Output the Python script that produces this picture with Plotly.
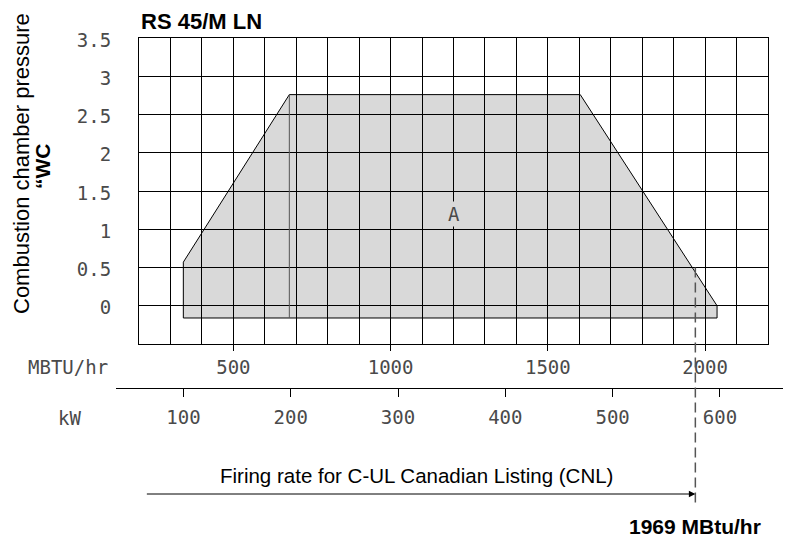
import plotly.graph_objects as go

# ---------------- data ----------------
title_text = "RS 45/M LN"
y_title = "Combustion chamber pressure"
y_unit = "\u201cWC"
mbtu_ticks = [500, 1000, 1500, 2000]
kw_ticks = [100, 200, 300, 400, 500, 600]
pressure_ticks = [0, 0.5, 1, 1.5, 2, 2.5, 3, 3.5]
pressure_labels = ["0", "0.5", "1", "1.5", "2", "2.5", "3", "3.5"]

# firing range "A" (MBtu/hr, "WC)
range_x = [341, 341, 678, 1603, 2038, 2038, 341]
range_y = [-0.16, 0.57, 2.76, 2.76, 0.0, -0.16, -0.16]
divider_x = [678, 678]
divider_y = [2.76, -0.16]
area_label = "A"
area_label_pos = (1200, 1.2)

cnl_mbtu = 1969          # C-UL Canadian listing limit
cnl_start_pressure = 0.5
kw_to_mbtu = 3.412

x_range = [200, 2200]
y_range = [-0.5, 3.5]

# ---------------- layout geometry ----------------
# positions below are given in window pixels; the page body has an 8px margin
OFF = 8
W_FIG, H_FIG = 791 - OFF, 540 - OFF
L, R, T, B = 116 - OFF, 791 - OFF, 38 - OFF, 388 - OFF
PW, PH = R - L, B - T


def px_x(p):
    return (p - OFF - L) / PW


def px_y(p):
    return (B - (p - OFF)) / PH


xdom = [px_x(139), px_x(768)]
ydom = [px_y(344), 1.0]

# kW axis spans the full paper width; derive its range from the MBtu scale
span = (x_range[1] - x_range[0]) / (xdom[1] - xdom[0])
mbtu_left = x_range[0] - xdom[0] * span
mbtu_right = x_range[1] + (1 - xdom[1]) * span
kw_range = [mbtu_left / kw_to_mbtu, mbtu_right / kw_to_mbtu]

MONO = "DejaVu Sans Mono"
SANS = "Liberation Sans, Arial"
TICKCOL = "#4a4a4a"
TICKSIZE = 19

fig = go.Figure()

fig.add_trace(go.Scatter(
    x=range_x, y=range_y, mode="lines", fill="toself",
    fillcolor="rgba(0,0,0,0.15)", line=dict(color="black", width=1),
    hoverinfo="skip", showlegend=False))
fig.add_trace(go.Scatter(
    x=divider_x, y=divider_y, mode="lines",
    line=dict(color="#555555", width=1), hoverinfo="skip", showlegend=False))
# dummy trace to materialise the kW axis
fig.add_trace(go.Scatter(
    x=kw_ticks, y=[0] * len(kw_ticks), xaxis="x2", yaxis="y2", mode="markers",
    marker=dict(opacity=0), hoverinfo="skip", showlegend=False))

fig.update_layout(
    width=W_FIG, height=H_FIG,
    margin=dict(l=L, r=W_FIG - R, t=T, b=H_FIG - B),
    plot_bgcolor="white", paper_bgcolor="white",
    showlegend=False,
    xaxis=dict(
        domain=xdom, range=x_range, tickvals=mbtu_ticks,
        ticks="outside", ticklen=6, tickcolor="black", tickwidth=1,
        showline=True, mirror=True, linecolor="black", linewidth=1,
        showgrid=True, gridcolor="black", gridwidth=1, zeroline=False,
        minor=dict(tick0=x_range[0], dtick=100, showgrid=True,
                   gridcolor="black", gridwidth=1, ticks=""),
        tickfont=dict(family=MONO, size=TICKSIZE, color=TICKCOL),
        anchor="y", fixedrange=True),
    yaxis=dict(
        domain=ydom, range=y_range, tickvals=pressure_ticks,
        ticktext=pressure_labels, ticks="", ticklabelstandoff=23,
        ticklabelshift=2,
        showline=True, mirror=True, linecolor="black", linewidth=1,
        showgrid=True, gridcolor="black", gridwidth=1, zeroline=False,
        tickfont=dict(family=MONO, size=TICKSIZE, color=TICKCOL),
        anchor="x", fixedrange=True),
    xaxis2=dict(
        domain=[0, 1], range=kw_range, tickvals=kw_ticks,
        ticks="outside", ticklen=8, tickcolor="black", tickwidth=1,
        ticklabelstandoff=4,
        showline=True, linecolor="black", linewidth=1,
        showgrid=False, zeroline=False, anchor="y2", side="bottom",
        tickfont=dict(family=MONO, size=TICKSIZE, color=TICKCOL),
        fixedrange=True),
    yaxis2=dict(domain=[0, 0.01], visible=False, anchor="x2",
                range=[0, 1], fixedrange=True),
)

# dashed CNL limit line
y_start = ydom[0] + (cnl_start_pressure - y_range[0]) / (y_range[1] - y_range[0]) * (ydom[1] - ydom[0])
fig.add_shape(type="line", xref="x", yref="paper",
              x0=cnl_mbtu, x1=cnl_mbtu, y0=y_start, y1=px_y(507),
              line=dict(color="#555555", width=1.5, dash="10px,5px"))

ann = []
ann.append(dict(text="<b>" + title_text + "</b>", xref="paper", yref="paper",
                x=px_x(139), y=px_y(21), xanchor="left", yanchor="middle",
                showarrow=False, font=dict(family=SANS, size=22, color="black")))
ann.append(dict(text=y_title,
                xref="paper", yref="paper", x=px_x(21), y=px_y(164),
                xanchor="center", yanchor="middle", textangle=-90,
                showarrow=False, font=dict(family=SANS, size=22, color="black")))
ann.append(dict(text="<b>" + y_unit + "</b>",
                xref="paper", yref="paper", x=px_x(42), y=px_y(166),
                xanchor="center", yanchor="middle", textangle=-90,
                showarrow=False, font=dict(family=SANS, size=21, color="black")))
ann.append(dict(text="MBTU/hr", xref="paper", yref="paper",
                x=px_x(68), y=px_y(367), xanchor="center", yanchor="middle",
                showarrow=False, font=dict(family=MONO, size=TICKSIZE, color=TICKCOL)))
ann.append(dict(text="kW", xref="paper", yref="paper",
                x=px_x(69), y=px_y(418), xanchor="center", yanchor="middle",
                showarrow=False, font=dict(family=MONO, size=TICKSIZE, color=TICKCOL)))
ann.append(dict(text=area_label, xref="x", yref="y",
                x=area_label_pos[0], y=area_label_pos[1], showarrow=False,
                bgcolor="#d9d9d9", font=dict(family=MONO, size=TICKSIZE, color=TICKCOL)))
ann.append(dict(text="Firing rate for C-UL Canadian Listing (CNL)",
                xref="paper", yref="paper", x=px_x(416), y=px_y(475),
                xanchor="center", yanchor="middle", showarrow=False,
                font=dict(family=SANS, size=20.5, color="black")))
ann.append(dict(text="", xref="x", yref="paper", x=cnl_mbtu, y=px_y(494),
                ax=-550, ay=0, axref="pixel", ayref="pixel",
                showarrow=True, arrowhead=2, arrowsize=1.3, arrowwidth=1,
                arrowcolor="black", standoff=0))
ann.append(dict(text="<b>%d MBtu/hr</b>" % cnl_mbtu, xref="x", yref="paper",
                x=cnl_mbtu, y=px_y(526), xanchor="center", yanchor="middle",
                showarrow=False, font=dict(family=SANS, size=21, color="black")))
fig.update_layout(annotations=ann)

fig.write_html("out.html")
